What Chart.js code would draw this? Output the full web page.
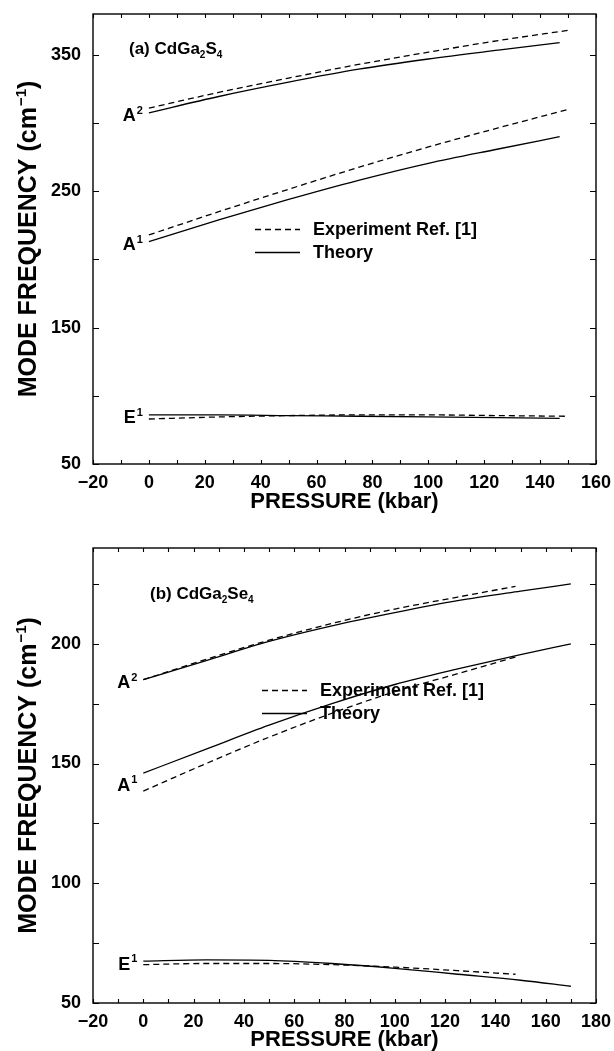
<!DOCTYPE html>
<html>
<head>
<meta charset="utf-8">
<script src="https://cdn.jsdelivr.net/npm/chart.js@4.4.1/dist/chart.umd.min.js"></script>
<style>
  html, body { margin: 0; padding: 0; background: #fff; }
  #wrap { position: relative; width: 614px; height: 1051px; }
  canvas { position: absolute; left: 0; }
</style>
</head>
<body>
<div id="wrap">
  <canvas id="chartA" width="614" height="525" style="top:0"></canvas>
  <canvas id="chartB" width="614" height="526" style="top:525px"></canvas>
</div>
<script>
// Panel (a) CdGa2S4 - pressure in kbar, frequency in cm-1
const pressA_exp = [0, 25, 50, 75, 100, 125, 150];
const pressA_th = [0, 25, 50, 75, 100, 125, 147];
const a_A2_exp = [311, 322.5, 333, 343, 352, 360.5, 368];
const a_A2_th = [307.5, 319.5, 330, 339.5, 347, 353.5, 359];
const a_A1_exp = [218, 235, 251.5, 267.5, 282.5, 296.5, 310];
const a_A1_th = [213, 229, 244, 258, 270.5, 281, 290];
const a_E1_exp = [83, 84.5, 85.5, 86, 86, 85.5, 85];
const a_E1_th = [86, 86, 85.5, 85, 84.5, 84, 83.5];
const xTicksA = [-20, -10, 0, 10, 20, 30, 40, 50, 60, 70, 80, 90, 100, 110, 120, 130, 140, 150, 160];
const xLabelsA = [-20, 0, 20, 40, 60, 80, 100, 120, 140, 160];
const yTicksA = [50, 100, 150, 200, 250, 300, 350];
const yLabelsA = [50, 150, 250, 350];

// Panel (b) CdGa2Se4
const pressB_exp = [0, 25, 50, 75, 100, 125, 148];
const pressB_th = [0, 25, 50, 75, 100, 125, 150, 170];
const b_A2_exp = [185, 193.5, 201.5, 208.5, 214.5, 219.5, 224];
const b_A2_th = [185, 193, 201, 207.5, 213, 218, 222, 225];
const b_A1_exp = [138.5, 150, 161, 171, 180, 187.5, 194.5];
const b_A1_th = [146, 156, 166, 175, 183, 189.5, 195.5, 200];
const b_E1_exp = [66, 66.5, 66.5, 66, 65, 63.5, 62];
const b_E1_th = [67.5, 68, 67.8, 66.5, 64.5, 62, 59.5, 57];
const xTicksB = [-20, -10, 0, 10, 20, 30, 40, 50, 60, 70, 80, 90, 100, 110, 120, 130, 140, 150, 160, 170, 180];
const xLabelsB = [-20, 0, 20, 40, 60, 80, 100, 120, 140, 160, 180];
const yTicksB = [50, 75, 100, 125, 150, 175, 200, 225];
const yLabelsB = [50, 100, 150, 200];

const FONT = '"Liberation Sans", Arial, Helvetica, sans-serif';
const fmt = v => v < 0 ? '\u2212' + Math.abs(v) : String(v);

function fontFor(kind, size) {
  return 'bold ' + (kind === 'n' ? size : Math.round(size * 0.6)) + 'px ' + FONT;
}

// text with sub/superscripts, y is the middle of the capitals
function drawRich(ctx, parts, x, y, size, align) {
  let w = 0;
  parts.forEach(([t, k]) => { ctx.font = fontFor(k, size); w += ctx.measureText(t).width + (k === 'sup' ? 1 : 0); });
  let cx = align === 'right' ? x - w : align === 'center' ? x - w / 2 : x;
  ctx.textAlign = 'left';
  ctx.textBaseline = 'alphabetic';
  ctx.fillStyle = '#000';
  const base = y + size * 0.36;
  parts.forEach(([t, k]) => {
    ctx.font = fontFor(k, size);
    if (k === 'sup') cx += 1;
    const dy = k === 'sup' ? -size * 0.4 : k === 'sub' ? size * 0.2 : 0;
    ctx.fillText(t, cx, base + dy);
    cx += ctx.measureText(t).width;
  });
}

function framePlugin(cfg) {
  return {
    id: 'frame',
    afterDatasetsDraw(chart) {
      const { ctx, chartArea: a, scales: { x, y } } = chart;
      ctx.save();
      ctx.strokeStyle = '#000';
      ctx.lineWidth = 1.4;
      ctx.setLineDash([]);
      ctx.strokeRect(a.left, a.top, a.right - a.left, a.bottom - a.top);
      ctx.lineWidth = 1.1;
      ctx.beginPath();
      x.ticks.forEach(t => {
        const px = Math.round(x.getPixelForValue(t.value)) + 0.5;
        ctx.moveTo(px, a.bottom); ctx.lineTo(px, a.bottom - 4);
        ctx.moveTo(px, a.top); ctx.lineTo(px, a.top + 4);
      });
      y.ticks.forEach(t => {
        const py = Math.round(y.getPixelForValue(t.value)) + 0.5;
        ctx.moveTo(a.left, py); ctx.lineTo(a.left + 6, py);
        ctx.moveTo(a.right, py); ctx.lineTo(a.right - 6, py);
      });
      ctx.stroke();

      // mode labels next to the start of each pair of curves
      cfg.modes.forEach(m => {
        const px = x.getPixelForValue(0) - 6;
        const py = y.getPixelForValue(m.at) + 2;
        drawRich(ctx, [[m.name, 'n'], [m.sup, 'sup']], px, py, 18, 'right');
      });

      // panel title
      drawRich(ctx, cfg.title, cfg.titlePos[0], cfg.titlePos[1], 17, 'left');

      // legend
      const L = cfg.legend;
      const exp = chart.data.datasets[0], th = chart.data.datasets[1];
      [[exp, 'Experiment Ref. [1]', L.y], [th, 'Theory', L.y + 23]].forEach(([d, label, ly]) => {
        ctx.beginPath();
        ctx.lineWidth = d.borderWidth;
        ctx.setLineDash(d.borderDash);
        ctx.moveTo(L.x, ly + 0.5); ctx.lineTo(L.x + 45, ly + 0.5);
        ctx.stroke();
        ctx.setLineDash([]);
        drawRich(ctx, [[label, 'n']], L.x + 58, ly, 18, 'left');
      });

      // axis titles
      const cxTitle = (a.left + a.right) / 2;
      drawRich(ctx, [['PRESSURE (kbar)', 'n']], cxTitle, cfg.xTitleY, 22, 'center');
      ctx.translate(27, (a.top + a.bottom) / 2);
      ctx.rotate(-Math.PI / 2);
      drawRich(ctx, [['MODE FREQUENCY (cm', 'n'], ['\u22121', 'sup'], [')', 'n']], 0, 0, 25, 'center');
      ctx.restore();
    }
  };
}

function buildChart(id, cfg) {
  const datasets = cfg.series.map(s => ({
    data: s.x.map((p, i) => ({ x: p, y: s.y[i] })),
    borderColor: '#000',
    borderWidth: 1.3,
    borderDash: s.exp ? [6, 4] : [],
    pointRadius: 0,
    fill: false,
    cubicInterpolationMode: 'monotone'
  }));
  const tickFont = { family: FONT, size: 18, weight: 'bold' };
  const noPad = s => { s.paddingTop = 0; s.paddingBottom = 0; s.paddingLeft = 0; s.paddingRight = 0; };
  return new Chart(document.getElementById(id), {
    type: 'line',
    data: { datasets },
    options: {
      responsive: false,
      animation: false,
      layout: { padding: { top: cfg.padTop, right: 18, left: 0, bottom: 0 } },
      plugins: { legend: { display: false }, tooltip: { enabled: false } },
      scales: {
        x: {
          type: 'linear', min: cfg.xMin, max: cfg.xMax,
          afterBuildTicks: s => { s.ticks = cfg.xTicks.map(v => ({ value: v })); },
          afterFit: s => { s.height = cfg.xAxisH; noPad(s); },
          grid: { display: false, drawTicks: false },
          border: { display: false },
          ticks: {
            font: tickFont, color: '#000', padding: 8, maxRotation: 0, autoSkip: false,
            callback: v => cfg.xLabels.includes(v) ? fmt(v) : ''
          }
        },
        y: {
          type: 'linear', min: cfg.yMin, max: cfg.yMax,
          afterBuildTicks: s => { s.ticks = cfg.yTicks.map(v => ({ value: v })); },
          afterFit: s => { s.width = 93; noPad(s); },
          grid: { display: false, drawTicks: false },
          border: { display: false },
          ticks: {
            font: tickFont, color: '#000', padding: 12, autoSkip: false,
            callback: v => cfg.yLabels.includes(v) ? fmt(v) : ''
          }
        }
      }
    },
    plugins: [framePlugin(cfg)]
  });
}

buildChart('chartA', {
  series: [
    { x: pressA_exp, y: a_A2_exp, exp: true },
    { x: pressA_th, y: a_A2_th },
    { x: pressA_exp, y: a_A1_exp, exp: true },
    { x: pressA_th, y: a_A1_th },
    { x: pressA_exp, y: a_E1_exp, exp: true },
    { x: pressA_th, y: a_E1_th }
  ],
  xMin: -20, xMax: 160, xTicks: xTicksA, xLabels: xLabelsA,
  yMin: 50, yMax: 380, yTicks: yTicksA, yLabels: yLabelsA,
  padTop: 14, xAxisH: 61, xTitleY: 500,
  modes: [
    { name: 'A', sup: '2', at: a_A2_th[0] },
    { name: 'A', sup: '1', at: a_A1_th[0] },
    { name: 'E', sup: '1', at: a_E1_th[0] }
  ],
  title: [['(a) CdGa', 'n'], ['2', 'sub'], ['S', 'n'], ['4', 'sub']],
  titlePos: [129, 48],
  legend: { x: 255, y: 229 }
});

buildChart('chartB', {
  series: [
    { x: pressB_exp, y: b_A2_exp, exp: true },
    { x: pressB_th, y: b_A2_th },
    { x: pressB_exp, y: b_A1_exp, exp: true },
    { x: pressB_th, y: b_A1_th },
    { x: pressB_exp, y: b_E1_exp, exp: true },
    { x: pressB_th, y: b_E1_th }
  ],
  xMin: -20, xMax: 180, xTicks: xTicksB, xLabels: xLabelsB,
  yMin: 50, yMax: 240, yTicks: yTicksB, yLabels: yLabelsB,
  padTop: 23, xAxisH: 48, xTitleY: 513,
  modes: [
    { name: 'A', sup: '2', at: b_A2_th[0] },
    { name: 'A', sup: '1', at: (b_A1_th[0] + b_A1_exp[0]) / 2 },
    { name: 'E', sup: '1', at: b_E1_th[0] }
  ],
  title: [['(b) CdGa', 'n'], ['2', 'sub'], ['Se', 'n'], ['4', 'sub']],
  titlePos: [150, 68],
  legend: { x: 262, y: 165 }
});
</script>
</body>
</html>
